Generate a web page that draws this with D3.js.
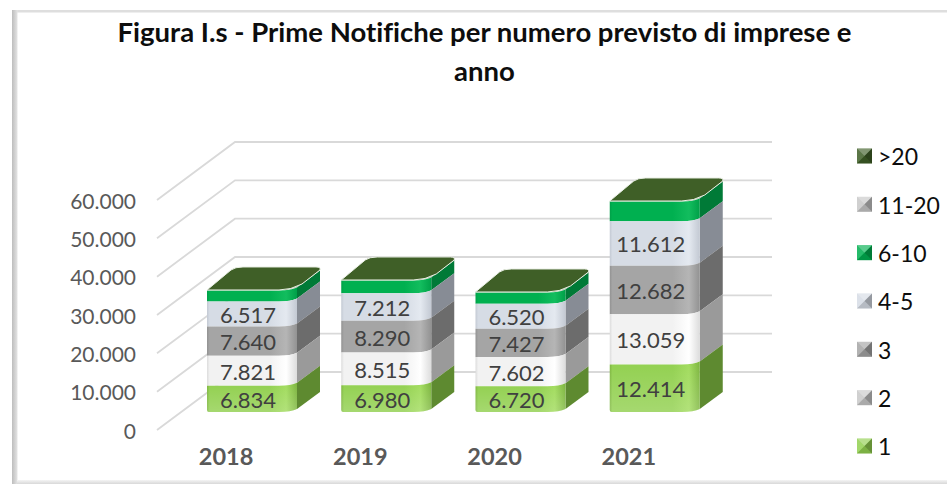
<!DOCTYPE html>
<html><head><meta charset="utf-8">
<script src="https://cdnjs.cloudflare.com/ajax/libs/d3/7.8.5/d3.min.js"></script>
<style>html,body{margin:0;padding:0;background:#fff}svg{display:block}text{font-family:Lato,"Open Sans",sans-serif;font-variant-ligatures:none}</style>
</head><body><svg id="c" width="947" height="484"></svg>
<script>
const categories=["2018","2019","2020","2021"];
const seriesNames=["1","2","3","4-5","6-10","11-20",">20"];
const s1=[6834,6980,6720,12414];
const s2=[7821,8515,7602,13059];
const s3=[7640,8290,7427,12682];
const s45=[6517,7212,6520,11612];
const s610=[2900,3320,2920,5160];
const s1120=[80,80,80,80];
const s20=[40,40,40,40];
const seriesValues=[s1,s2,s3,s45,s610,s1120,s20];
const tickValues=[0,10000,20000,30000,40000,50000,60000];
const titleLines=["Figura I.s - Prime Notifiche per numero previsto di imprese e","anno"];
const front=["#92d050","#f2f2f2","#a5a5a5","#d6dce5","#00b050","#e2e2e2","#3f5f27"];
const hi=["#a2dc5e","#ffffff","#b5b5b5","#e4e9f0","#12bd5e","#ffffff","#4b6f30"];
const edge=["#7db53f","#dcdcdc","#929292","#c3c9d3","#00a048","#d0d0d0","#3a5825"];
const side=["#5e8a30","#9a9a9a","#6c6c6c","#878c95","#007a37","#aaaaaa","#3f5f27"];

const svg=d3.select("#c");
const defs=svg.append("defs");
seriesNames.forEach((n,i)=>{
  const g=defs.append("linearGradient").attr("id","g"+i);
  [[0,edge[i]],[.03,front[i]],[.7,front[i]],[.88,hi[i]],[1,edge[i]]].forEach(s=>g.append("stop").attr("offset",s[0]).attr("stop-color",s[1]));
});
const rim=defs.append("linearGradient").attr("id","rim").attr("x1",0).attr("x2",0).attr("y1",0).attr("y2",1);
rim.append("stop").attr("offset",0).attr("stop-color","#fff").attr("stop-opacity",0);
rim.append("stop").attr("offset",1).attr("stop-color","#fff").attr("stop-opacity",.18);
const lg=defs.append("linearGradient").attr("id","fl");
lg.append("stop").attr("offset",0).attr("stop-color","#bdbdbd");
lg.append("stop").attr("offset",1).attr("stop-color","#e4e4e4");
const bg=defs.append("linearGradient").attr("id","fb").attr("x1",0).attr("x2",0).attr("y1",0).attr("y2",1);
bg.append("stop").attr("offset",0).attr("stop-color","#f4f4f4");
bg.append("stop").attr("offset",1).attr("stop-color","#d8d8d8");

// frame
svg.append("rect").attr("x",12).attr("y",10).attr("width",935).attr("height",2.5).attr("fill","#dedede");
svg.append("rect").attr("x",12).attr("y",10).attr("width",5.5).attr("height",474).attr("fill","url(#fl)");
svg.append("rect").attr("x",17).attr("y",480).attr("width",930).attr("height",4).attr("fill","url(#fb)");

// title
const title=svg.append("g");
titleLines.forEach((t,i)=>title.append("text").attr("x",484.5).attr("y",[42,81][i]).attr("text-anchor","middle")
  .attr("font-size",27.5).attr("font-weight",700).attr("fill","#0d0d0d").text(t));

// scales
const y=d3.scaleLinear().domain([0,60000]).range([430,200]);
const x=d3.scaleBand().domain(categories).range([157,694]);
const floorDx=78,floorDy=58,gridEnd=772;
const barLift=18, barOff=50, barW=90, depthX=23, depthY=20;

// grid
const grid=svg.append("g").attr("fill","none").attr("stroke","#d9d9d9").attr("stroke-width",1.8);
tickValues.forEach(v=>grid.append("path").attr("d",`M${x.range()[0]},${y(v)}l${floorDx},${-floorDy}H${gridEnd}`));

// axis
const loc=d3.formatLocale({decimal:",",thousands:".",grouping:[3],currency:["",""]});
const fmt=loc.format(",d");
const ax=svg.append("g").attr("transform","translate(136,1.5)")
  .call(d3.axisLeft(y).tickValues(tickValues).tickFormat(fmt).tickSize(0).tickPadding(0));
ax.select(".domain").remove();
ax.selectAll("text").attr("font-size",21).attr("fill","#595959").attr("font-family","Lato");

// category labels
svg.append("g").selectAll("text").data(categories).join("text")
  .attr("x",d=>x(d)+x.bandwidth()/2+2).attr("y",465).attr("text-anchor","middle")
  .attr("font-size",23.5).attr("font-weight",700).attr("fill","#595959").text(d=>d);

// bars
const stacked=categories.map((c,j)=>{let acc=0;return seriesValues.map((sv,i)=>{const a=acc;acc+=sv[j];return {i,c,a,b:acc,v:sv[j]};});});
const by=v=>y(v)-barLift;
const edgeD=(x0,x1,yy)=>`${x0},${yy}H${x1-18}Q${x1-6},${yy} ${x1},${yy-3}`;
const gBars=svg.append("g");
stacked.forEach(st=>{
  const g=gBars.append("g");
  const c=st[0].c, x0=x(c)+barOff, x1=x0+barW;
  [...st].reverse().forEach(d=>{
    const yb=by(d.a), yt=by(d.b);
    g.append("path").attr("fill",side[d.i])
      .attr("d",`M${x1},${yb-3}l${depthX},${-depthY+3}V${yt-depthY}L${x1},${yt-3}Z`);
    const bottom=d.i===0
      ? `L${x1},${yb-3}Q${x1-6},${yb} ${x1-18},${yb}H${x0+2}Q${x0},${yb} ${x0},${yb-2}Z`
      : `L${x1},${yb-3}Q${x1-6},${yb} ${x1-18},${yb}H${x0}Z`;
    g.append("path").attr("fill",`url(#g${d.i})`)
      .attr("d",`M${edgeD(x0,x1,yt)}${bottom}`);
    if(d.i===0) g.append("path").attr("fill","url(#rim)")
      .attr("d",`M${edgeD(x0,x1,yt)}L${x1},${yb-3}Q${x1-6},${yb} ${x1-18},${yb}H${x0+2}Q${x0},${yb} ${x0},${yb-2}Z`);
  });
  const top=by(st[6].b);
  g.append("path").attr("fill",front[6]).attr("stroke","#e9efe4").attr("stroke-width",1)
    .attr("d",`M${x0},${top}L${x0+24},${top-20}Q${x0+28},${top-23} ${x0+36},${top-23}H${x1+19}Q${x1+24},${top-23} ${x1+23},${top-20}L${x1+5},${top-6}Q${x1-6},${top} ${x1-18},${top}Z`);
  st.slice(0,4).forEach(d=>{
    g.append("text").attr("x",x0+41).attr("y",(by(d.a)+by(d.b))/2+1).attr("dy","0.36em").attr("text-anchor","middle")
      .attr("font-size",22).attr("fill","#404040").text(fmt(d.v));
  });
});

// legend
const legRows=d3.scalePoint().domain([...seriesNames].reverse()).range([156,446]);
const shades=[["#fff",.35],["#fff",.15],["#000",.3],["#000",.15]];
const leg=svg.append("g").selectAll("g").data(seriesNames).join("g")
  .attr("transform",d=>`translate(857,${legRows(d)})`);
const sw=16;
leg.each(function(d,idx){
  const g=d3.select(this), i=seriesNames.indexOf(d);
  const col=i===1||i===5?"#c8c8c8":front[i];
  g.append("rect").attr("x",0).attr("y",-sw/2+.5).attr("width",sw-1).attr("height",sw-1).attr("fill",col);
  const w=sw-1,t=-sw/2+.5,c=[w/2,t+w/2];
  const cor=[[0,t],[w,t],[w,t+w],[0,t+w]];
  [[0,1,0],[0,3,1],[1,2,2],[3,2,3]].forEach(([a,b,s])=>g.append("path")
    .attr("d",`M${cor[a]}L${cor[b]}L${c}Z`).attr("fill",shades[s][0]).attr("fill-opacity",shades[s][1]));
});
leg.append("text").attr("x",21).attr("y",1).attr("dy","0.36em").attr("font-size",23).attr("fill","#0d0d0d").text(d=>d);
</script></body></html>
